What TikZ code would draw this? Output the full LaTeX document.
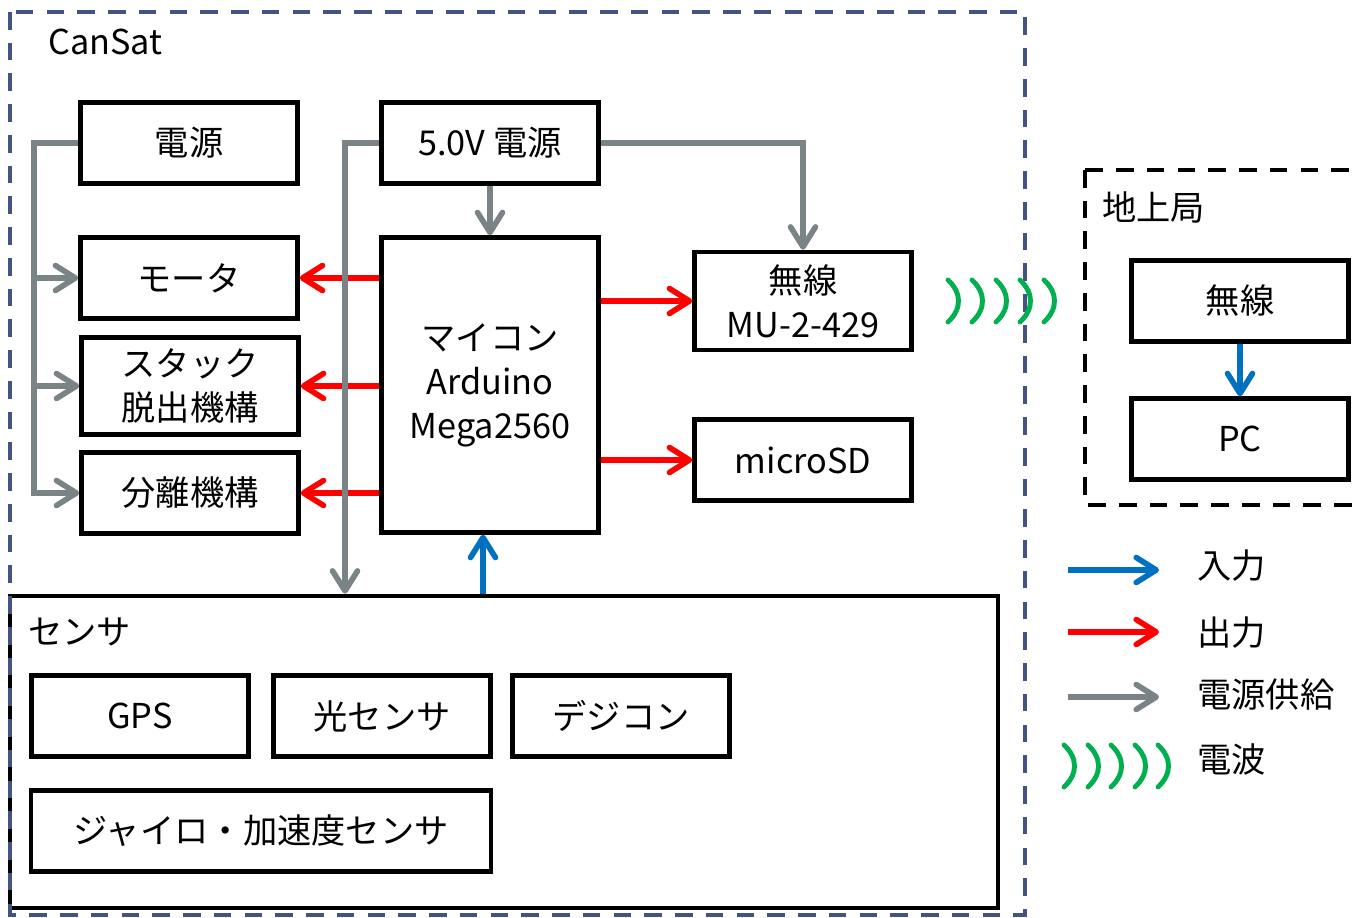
\documentclass[tikz,border=0pt]{standalone}
\usepackage{fontspec}
\setmainfont{Noto Sans CJK JP}
\usetikzlibrary{positioning,arrows.meta,calc,fit}

\definecolor{framenavy}{RGB}{68,84,130}
\definecolor{pwrgray}{RGB}{122,132,134}
\definecolor{inblue}{RGB}{0,112,192}
\definecolor{outred}{RGB}{255,0,0}
\definecolor{wavegreen}{RGB}{0,176,80}

\begin{document}
\begin{tikzpicture}[
    x=0.02cm, y=-0.02cm,
    font=\fontsize{19.5pt}{25pt}\selectfont,
    node distance=0.5cm,
    block/.style={draw, line width=2.6pt, minimum width=4.34cm, minimum height=1.62cm, inner sep=0pt, align=center},
    group/.style={draw, line width=2.6pt, inner sep=0pt},
    cansatframe/.style={draw=framenavy, line width=2.3pt, dash pattern=on 10pt off 7.5pt},
    groundframe/.style={draw, line width=2.3pt, dash pattern=on 10pt off 7.5pt},
    pwr/.style={draw=pwrgray, line width=3.2pt, -{Straight Barb[length=4mm, width=5mm, round]}},
    inarrow/.style={draw=inblue, line width=3.2pt, -{Straight Barb[length=4mm, width=5mm, round]}},
    outarrow/.style={draw=outred, line width=3.2pt, -{Straight Barb[length=4mm, width=5mm, round]}},
    wave/.style={draw=wavegreen, line width=2.8pt, line cap=round}
]
\useasboundingbox (0,0) rectangle (1359,918);

% sensor group
\node[group, fit={(10,596) (998,908)}] (sensor) {};
\node[anchor=west] (senslbl) at (22,632) {センサ};
\node[block] (gps) at (140,716) {GPS};
\node[block, right=0.41cm of gps] (light) {光センサ};
\node[block, right=0.35cm of light] (digicon) {デジコン};
\node[block, minimum width=9.2cm] (gyro) at (261,831) {ジャイロ・加速度センサ};

% CanSat frame
\draw[cansatframe] (10,12) rectangle (1025,915);
\node[anchor=west] (cansatlbl) at (42,42) {CanSat};

\node[block] (dengen) at (189,143) {電源};
\node[block] (v5) at (490,143) {5.0V 電源};
\node[block] (motor) at (189,278) {モータ};
\node[block, minimum height=1.94cm] (stack) at (190,386) {スタック\\脱出機構};
\node[block] (bunri) at (190,493) {分離機構};
\node[block, minimum height=5.9cm] (micon) at (490,385) {マイコン\\Arduino\\Mega2560};
\node[block, minimum height=1.96cm] (radio) at (803,301) {無線\\MU-2-429};
\node[block] (sd) at (803,460) {microSD};

% ground station
\draw[groundframe] (1085,170) rectangle (1420,505);
\node[anchor=west] (groundlbl) at (1096,207) {地上局};
\node[block] (gradio) at (1240,301) {無線};
\node[block, below=1.05cm of gradio] (pc) {PC};

% outputs
\draw[outarrow] (micon.west |- motor) -- (motor.east);
\draw[outarrow] (micon.west |- stack) -- (stack.east);
\draw[outarrow] (micon.west |- bunri) -- (bunri.east);
\draw[outarrow] (micon.east |- radio) -- (radio.west);
\draw[outarrow] (micon.east |- sd) -- (sd.west);

% power supply
\coordinate (bus) at (34,493);
\coordinate (drop) at (345,0);
\draw[pwr] (dengen.west) -| (bus) -- (bunri.west);
\draw[pwr] (bus |- motor.west) -- (motor.west);
\draw[pwr] (bus |- stack.west) -- (stack.west);
\draw[pwr] (v5.west) -| (sensor.north -| drop);
\draw[pwr] (v5.south) -- (micon.north);
\draw[pwr] (v5.east) -| (radio.north);

% inputs
\coordinate (feed) at (483,0);
\draw[inarrow] (sensor.north -| feed) -- (micon.south -| feed);
\draw[inarrow] (gradio.south) -- (pc.north);

% radio waves
\foreach \wx in {948,972,996,1020,1044}
    \draw[wave] (\wx,280) .. controls (\wx+14,293) and (\wx+14,309) .. (\wx,322);

% legend
\node[anchor=west] (lin) at (1191,566) {入力};
\node[anchor=west] (lout) at (1191,633) {出力};
\node[anchor=west] (lpwr) at (1191,695) {電源供給};
\node[anchor=west] (lwave) at (1191,759) {電波};
\draw[inarrow] ($(lin.west)+(-123,4)$) -- ($(lin.west)+(-32,4)$);
\draw[outarrow] ($(lout.west)+(-123,-1)$) -- ($(lout.west)+(-32,-1)$);
\draw[pwr] ($(lpwr.west)+(-123,2)$) -- ($(lpwr.west)+(-32,2)$);
\foreach \wx in {1064,1088,1111,1135,1158}
    \draw[wave] (\wx,745) .. controls (\wx+14,758) and (\wx+14,774) .. (\wx,787);
\end{tikzpicture}
\end{document}
